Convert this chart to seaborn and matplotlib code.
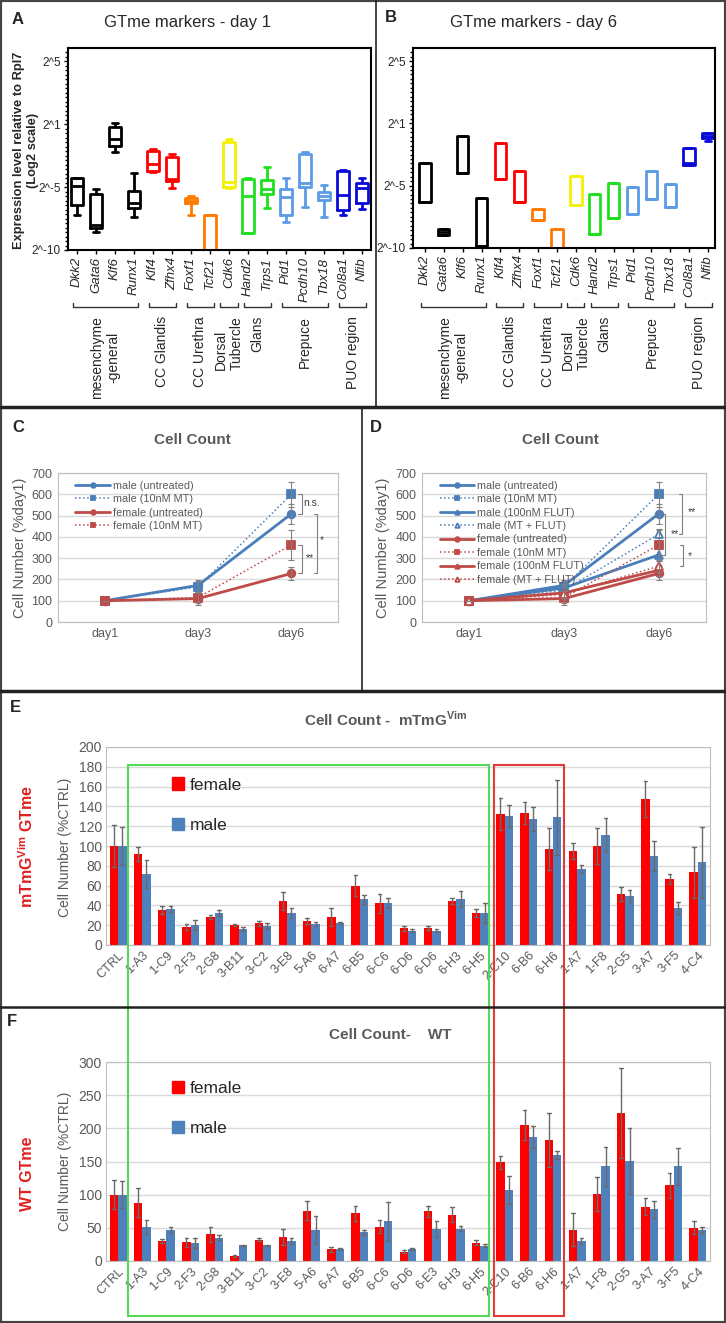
import matplotlib
matplotlib.use("Agg")
import matplotlib.pyplot as plt
import matplotlib.transforms as mtransforms
from matplotlib.lines import Line2D
from matplotlib.patches import Patch, Rectangle
from matplotlib.ticker import MultipleLocator
import numpy as np
import pandas as pd
import seaborn as sns

W, H = 726, 1323
GRAY = "#595959"
BLUE, RED = "#4a7ebb", "#be4b48"

# ---- A/B: marker expression, in tick units of the 2^-10 .. 2^5 axis
genes = ["Dkk2", "Gata6", "Klf6", "Runx1", "Klf4", "Zfhx4", "Foxf1", "Tcf21",
         "Cdk6", "Hand2", "Trps1", "Pid1", "Pcdh10", "Tbx18", "Col8a1", "Nfib"]
gene_colors = (["#000000"] * 4 + ["#ff0000"] * 2 + ["#ff7a00"] * 2 + ["#f2f200"]
               + ["#1fe01f"] * 2 + ["#5c9ce6"] * 3 + ["#0a0ad8"] * 2)
log_ticks = ["2^-10", "2^-5", "2^1", "2^5"]

# whisker low, q1, median, q3, whisker high
day1_boxes = [
    [0.56, 0.71, 1.02, 1.15, 1.15], [0.29, 0.35, 0.40, 0.89, 0.97],
    [1.56, 1.66, 1.76, 1.95, 2.02], [0.52, 0.66, 0.74, 0.93, 1.23],
    [1.24, 1.26, 1.36, 1.58, 1.60], [0.98, 1.10, 1.13, 1.47, 1.53],
    [0.55, 0.74, 0.78, 0.82, 0.86], [-0.5, -0.4, -0.3, 0.55, 0.55],
    [0.98, 1.00, 1.08, 1.71, 1.77], [0.27, 0.27, 0.86, 1.13, 1.15],
    [0.66, 0.89, 0.97, 1.11, 1.32], [0.44, 0.56, 0.85, 0.97, 1.15],
    [0.69, 1.00, 1.06, 1.53, 1.55], [0.52, 0.79, 0.86, 0.92, 1.03],
    [0.56, 0.64, 0.88, 1.26, 1.27], [0.65, 0.75, 0.98, 1.06, 1.15],
]
day6_boxes = [
    [0.74, 0.74, 0.74, 1.37, 1.37], [0.21, 0.21, 0.26, 0.31, 0.31],
    [1.21, 1.21, 1.21, 1.79, 1.79], [0.03, 0.03, 0.03, 0.81, 0.81],
    [1.11, 1.11, 1.11, 1.68, 1.68], [0.74, 0.74, 0.74, 1.24, 1.24],
    [0.45, 0.45, 0.45, 0.63, 0.63], [-0.5, -0.5, -0.5, 0.31, 0.31],
    [0.69, 0.69, 0.69, 1.16, 1.16], [0.23, 0.23, 0.23, 0.87, 0.87],
    [0.48, 0.48, 0.48, 1.05, 1.05], [0.55, 0.55, 0.55, 0.98, 0.98],
    [0.79, 0.79, 0.79, 1.23, 1.23], [0.66, 0.66, 0.66, 1.03, 1.03],
    [1.34, 1.34, 1.37, 1.61, 1.61], [1.72, 1.77, 1.80, 1.84, 1.84],
]
marker_groups = [("mesenchyme\n-general", 0, 3, "center"), ("CC Glandis", 4, 5, "center"),
                 ("CC Urethra", 6, 7, "center"), ("Dorsal\nTubercle", 8, 8, "left"),
                 ("Glans", 9, 10, "center"), ("Prepuce", 11, 13, "center"),
                 ("PUO region", 14, 15, "center")]

# ---- C/D: cell counts (%day1)
days = ["day1", "day3", "day6"]
male_untreated, male_untreated_err = [100, 172, 508], [0, 25, 48]
male_mt, male_mt_err = [100, 165, 600], [0, 22, 60]
male_flut, male_flut_err = [100, 160, 315], [0, 20, 30]
male_mt_flut, male_mt_flut_err = [100, 150, 412], [0, 18, 25]
female_untreated, female_untreated_err = [100, 110, 228], [0, 30, 32]
female_mt, female_mt_err = [100, 115, 362], [0, 20, 72]
female_flut, female_flut_err = [100, 137, 243], [0, 15, 25]
female_mt_flut, female_mt_flut_err = [100, 130, 262], [0, 15, 25]

# ---- E/F: cell counts (%CTRL)
clones_e = ["CTRL", "1-A3", "1-C9", "2-F3", "2-G8", "3-B11", "3-C2", "3-E8", "5-A6", "6-A7",
            "6-B5", "6-C6", "6-D6", "6-D6", "6-H3", "6-H5", "2-C10", "6-B6", "6-H6", "1-A7",
            "1-F8", "2-G5", "3-A7", "3-F5", "4-C4"]
e_female = [100, 91.6, 35, 18.5, 28, 20, 22, 44.4, 24, 28.6, 60, 42, 16.8, 16.8, 44.4, 32,
            132, 133.7, 97, 95, 100, 51.5, 147.5, 67, 73.4]
e_female_err = [21, 7, 4, 3, 2, 1, 2.5, 9, 3, 9, 11, 9.5, 2.5, 2, 3, 4, 16, 11, 21, 8, 18, 7,
                18.5, 5, 26]
e_male = [100, 72, 36.7, 20, 32, 16, 19, 32.7, 21, 22, 46, 42.8, 14.5, 14.5, 46.8, 32, 130.6,
          127, 129, 76.8, 110.8, 49.8, 90, 37, 83.5]
e_male_err = [19, 14, 3, 5, 3, 2, 3, 5, 2, 1, 5, 5, 1.5, 1.5, 8, 10, 11, 12, 38, 4, 17, 6, 15,
              6, 36]

clones_f = ["CTRL", "1-A3", "1-C9", "2-F3", "2-G8", "3-B11", "3-C2", "3-E8", "5-A6", "6-A7",
            "6-B5", "6-C6", "6-D6", "6-E3", "6-H3", "6-H5", "2-C10", "6-B6", "6-H6", "1-A7",
            "1-F8", "2-G5", "3-A7", "3-F5", "4-C4"]
f_female = [100, 88, 30, 28, 40, 7.5, 32, 36, 76, 17.6, 72, 52, 14, 75, 70, 27.7, 149, 205,
            182, 47, 101, 223, 82, 114, 50]
f_female_err = [22, 22, 3, 7, 11, 1, 2, 12, 14, 4, 11, 10, 2, 8, 11, 4, 10, 23, 41, 25, 25, 68,
                13, 19, 10]
f_male = [100, 51, 47, 27, 35, 23.7, 23.7, 30, 47, 18, 43.4, 59.6, 18, 48, 48.5, 23, 107, 187,
          160, 30, 142.6, 151, 78, 142.6, 47]
f_male_err = [20, 11, 5, 7, 4, 1, 1, 4, 21, 1.5, 4, 30, 2, 12, 4, 2, 21, 16, 6, 4, 29, 50, 13,
              28, 5]
sex_colors = {"female": "#ff0000", "male": "#4f81bd"}

sns.set_theme(style="white")
plt.rcParams["font.family"] = ["Liberation Sans", "DejaVu Sans"]
plt.rcParams["mathtext.fontset"] = "custom"
plt.rcParams["mathtext.rm"] = "Liberation Sans"
plt.rcParams["mathtext.bf"] = "Liberation Sans:bold"

fig = plt.figure(figsize=(W / 100, H / 100), dpi=100)


def fx(x):
    return x / W


def fy(y):
    return 1 - y / H


def px_axes(x0, y0, x1, y1):
    return fig.add_axes([fx(x0), fy(y1), (x1 - x0) / W, (y1 - y0) / H])


def box_panel(ax, boxes, xlim):
    df = pd.DataFrame([(g, v) for g, vals in zip(genes, boxes) for v in vals],
                      columns=["gene", "level"])
    sns.boxplot(data=df, x="gene", y="level", hue="gene", order=genes, hue_order=genes,
                palette=dict(zip(genes, gene_colors)), fill=False, whis=(0, 100),
                width=0.6, linewidth=2, saturation=1, legend=False, ax=ax)
    ax.set_xlim(*xlim)
    ax.set_ylim(0, 3.21)
    ax.set_yticks(range(len(log_ticks)))
    ax.set_yticklabels(log_ticks, fontsize=8.5)
    ax.yaxis.set_minor_locator(MultipleLocator(1 / 14))
    ax.set_xticks(range(len(genes)))
    ax.set_xticklabels(genes, rotation=90, style="italic", fontsize=9.5)
    ax.tick_params(axis="both", which="both", left=True, bottom=True, length=3, width=1,
                   color="black", pad=2)
    ax.tick_params(axis="y", which="minor", length=2)
    ax.set_xlabel("")
    ax.set_ylabel("")
    for s in ax.spines.values():
        s.set_color("black")
        s.set_linewidth(1.5)
    tr = mtransforms.blended_transform_factory(ax.transData, fig.transFigure)
    for label, first, last, align in marker_groups:
        pad = 0.45 if first == last else 0.22
        x0, x1 = first - pad, last + pad
        ax.plot([x0, x0, x1, x1], [fy(303), fy(307), fy(307), fy(303)], transform=tr,
                color="#333333", lw=1, clip_on=False)
        ax.text((first + last) / 2, fy(316), label, transform=tr, rotation=90, ha="center",
                va="top", multialignment=align, fontsize=10)


def line_panel(ax, series, brackets):
    for name, mean, err, color, marker, ls, filled in series:
        df = pd.DataFrame({
            "day": np.repeat(np.arange(len(days)), 2),
            "value": np.ravel([[m - e, m + e] for m, e in zip(mean, err)]),
        })
        sns.lineplot(data=df, x="day", y="value", errorbar=("pi", 100), err_style="bars",
                     color=color, linestyle=ls, linewidth=2 if ls == "-" else 1.1,
                     marker=marker, markersize=5.5,
                     markerfacecolor=color if filled else "white", markeredgecolor=color,
                     markeredgewidth=1.3, label=name,
                     err_kws={"capsize": 2.5, "elinewidth": 0.8, "capthick": 0.8,
                              "ecolor": "#808080"}, ax=ax)
    ax.set_xlim(-0.5, 2.5)
    ax.set_ylim(0, 700)
    ax.set_yticks(range(0, 701, 100))
    ax.set_xticks(range(len(days)))
    ax.set_xticklabels(days)
    ax.tick_params(labelsize=9, labelcolor=GRAY, length=0, pad=4)
    ax.grid(axis="y", color="#d9d9d9", lw=1)
    ax.set_xlabel("")
    ax.set_ylabel("")
    for s in ax.spines.values():
        s.set_color("#bfbfbf")
        s.set_linewidth(0.8)
    ax.legend(loc="upper left", bbox_to_anchor=(0.035, 1.0), frameon=False, fontsize=7.8,
              labelcolor=GRAY, handlelength=3.2, labelspacing=0.32, borderpad=0.2,
              handletextpad=0.3, markerscale=0.6)
    for x, y0, y1, text, tx, ty in brackets:
        ax.plot([x - 0.035, x, x, x - 0.035], [y0, y0, y1, y1], color="#808080", lw=0.8,
                clip_on=False)
        ax.text(tx, ty, text, fontsize=7.5, color="#404040", va="center", ha="left")


def bar_panel(ax, labels, f_mean, f_err, m_mean, m_err, ymax, step, legend_top):
    rows = []
    for i in range(len(labels)):
        for sex, mean, err in (("female", f_mean[i], f_err[i]), ("male", m_mean[i], m_err[i])):
            rows.append((i, sex, mean - err))
            rows.append((i, sex, mean + err))
    df = pd.DataFrame(rows, columns=["pos", "sex", "value"])
    sns.barplot(data=df, x="pos", y="value", hue="sex", hue_order=["female", "male"],
                palette=sex_colors, saturation=1, errorbar=("pi", 100), capsize=0.3,
                width=0.7, linewidth=0, err_kws={"color": "#6a6a6a", "linewidth": 1}, ax=ax)
    ax.set_xlim(-0.5, len(labels) - 0.5)
    ax.set_ylim(0, ymax)
    ax.set_yticks(np.arange(0, ymax + 1, step))
    ax.set_xticks(range(len(labels)))
    ax.set_xticklabels(labels, rotation=45, ha="right", rotation_mode="anchor")
    ax.tick_params(labelsize=9, labelcolor=GRAY, length=0, pad=3)
    ax.tick_params(axis="y", labelsize=10)
    ax.grid(axis="y", color="#d9d9d9", lw=1)
    ax.set_axisbelow(True)
    ax.set_xlabel("")
    ax.set_ylabel("")
    for s in ax.spines.values():
        s.set_color("#bfbfbf")
        s.set_linewidth(0.8)
    handles = [Patch(color=sex_colors[k]) for k in ("female", "male")]
    ax.legend(handles, ["female", "male"], loc="upper left",
              bbox_to_anchor=(0.095, legend_top), frameon=False, fontsize=12.5,
              handlelength=0.7, handleheight=0.7, handletextpad=0.3, labelspacing=1.45,
              borderpad=0)


# ---- A / B
ax_a = px_axes(68, 48, 371, 250)
box_panel(ax_a, day1_boxes, (-0.47, 15.47))
ax_b = px_axes(413, 48, 715, 248)
box_panel(ax_b, day6_boxes, (-0.63, 15.37))
fig.text(fx(188), fy(23), "GTme markers - day 1", fontsize=12, ha="center", va="center")
fig.text(fx(533), fy(23), "GTme markers - day 6", fontsize=12, ha="center", va="center")
fig.text(fx(26), fy(150), "Expression level relative to Rpl7\n(Log2 scale)", rotation=90,
         fontsize=9.3, fontweight="bold", ha="center", va="center", multialignment="center")

# ---- C / D
c_lines = [
    ("male (untreated)", male_untreated, male_untreated_err, BLUE, "o", "-", True),
    ("male (10nM MT)", male_mt, male_mt_err, BLUE, "s", ":", True),
    ("female (untreated)", female_untreated, female_untreated_err, RED, "o", "-", True),
    ("female (10nM MT)", female_mt, female_mt_err, RED, "s", ":", True),
]
d_lines = [
    ("male (untreated)", male_untreated, male_untreated_err, BLUE, "o", "-", True),
    ("male (10nM MT)", male_mt, male_mt_err, BLUE, "s", ":", True),
    ("male (100nM FLUT)", male_flut, male_flut_err, BLUE, "^", "-", True),
    ("male (MT + FLUT)", male_mt_flut, male_mt_flut_err, BLUE, "^", ":", False),
    ("female (untreated)", female_untreated, female_untreated_err, RED, "o", "-", True),
    ("female (10nM MT)", female_mt, female_mt_err, RED, "s", ":", True),
    ("female (100nM FLUT)", female_flut, female_flut_err, RED, "^", "-", True),
    ("female (MT + FLUT)", female_mt_flut, female_mt_flut_err, RED, "^", ":", False),
]
ax_c = px_axes(58, 473, 338, 622)
line_panel(ax_c, c_lines, [
    (2.11, male_mt[2], male_untreated[2], "n.s.", 2.13, 560),
    (2.11, female_mt[2], female_untreated[2], "**", 2.15, 300),
    (2.28, male_untreated[2], female_untreated[2], "*", 2.31, 385),
])
ax_d = px_axes(422, 473, 706, 622)
line_panel(ax_d, d_lines, [
    (2.25, male_mt[2], male_mt_flut[2], "**", 2.31, 515),
    (2.07, male_untreated[2], male_flut[2], "**", 2.13, 415),
    (2.26, female_mt[2], female_mt_flut[2], "*", 2.31, 312),
])
for x in (192, 560):
    fig.text(fx(x), fy(440), "Cell Count", fontsize=11, fontweight="bold", color=GRAY,
             ha="center", va="center")
for x in (20, 383):
    fig.text(fx(x), fy(548), "Cell Number (%day1)", rotation=90, fontsize=10.5, color=GRAY,
             ha="center", va="center")

# ---- E / F
ax_e = px_axes(106, 747, 710, 945)
bar_panel(ax_e, clones_e, e_female, e_female_err, e_male, e_male_err, 200, 20, 0.89)
ax_f = px_axes(106, 1062, 710, 1261)
bar_panel(ax_f, clones_f, f_female, f_female_err, f_male, f_male_err, 300, 50, 0.95)
fig.text(fx(386), fy(719), r"Cell Count -  mTmG$^{\mathbf{Vim}}$", fontsize=11,
         fontweight="bold", color=GRAY, ha="center", va="center")
fig.text(fx(390), fy(1035), "Cell Count-    WT", fontsize=11, fontweight="bold", color=GRAY,
         ha="center", va="center")
fig.text(fx(65), fy(847), "Cell Number (%CTRL)", rotation=90, fontsize=10, color=GRAY,
         ha="center", va="center")
fig.text(fx(65), fy(1161), "Cell Number (%CTRL)", rotation=90, fontsize=10, color=GRAY,
         ha="center", va="center")
fig.text(fx(27), fy(846), r"mTmG$^{\mathbf{Vim}}$ GTme", rotation=90, fontsize=11.5,
         fontweight="bold", color="#e02020", ha="center", va="center")
fig.text(fx(28), fy(1174), "WT GTme", rotation=90, fontsize=11.5, fontweight="bold",
         color="#e02020", ha="center", va="center")

# highlight boxes across E and F
fig.add_artist(Rectangle((fx(128), fy(1316)), (489 - 128) / W, (1316 - 765) / H,
                         transform=fig.transFigure, fill=False, ec="#55d855", lw=1.5))
fig.add_artist(Rectangle((fx(494), fy(1316)), (564 - 494) / W, (1316 - 765) / H,
                         transform=fig.transFigure, fill=False, ec="#e03a3a", lw=1.5))

# panel letters and frames
for letter, x, y in [("A", 18, 20), ("B", 391, 18), ("C", 18, 427), ("D", 376, 427),
                     ("E", 15, 708), ("F", 12, 1022)]:
    fig.text(fx(x), fy(y), letter, fontsize=12, fontweight="bold", ha="center", va="center")
for y, lw in [(407, 2.5), (691, 2.5), (1007, 1.8)]:
    fig.add_artist(Line2D([0, 1], [fy(y), fy(y)], transform=fig.transFigure, color="#222222",
                          lw=lw))
fig.add_artist(Line2D([fx(376), fx(376)], [fy(0), fy(407)], transform=fig.transFigure,
                      color="#222222", lw=1.2))
fig.add_artist(Line2D([fx(362), fx(362)], [fy(407), fy(691)], transform=fig.transFigure,
                      color="#222222", lw=1.2))
fig.add_artist(Rectangle((0, 0), 1, 1, transform=fig.transFigure, fill=False,
                         ec="#444444", lw=3))

fig.savefig("out.png", dpi=100)
